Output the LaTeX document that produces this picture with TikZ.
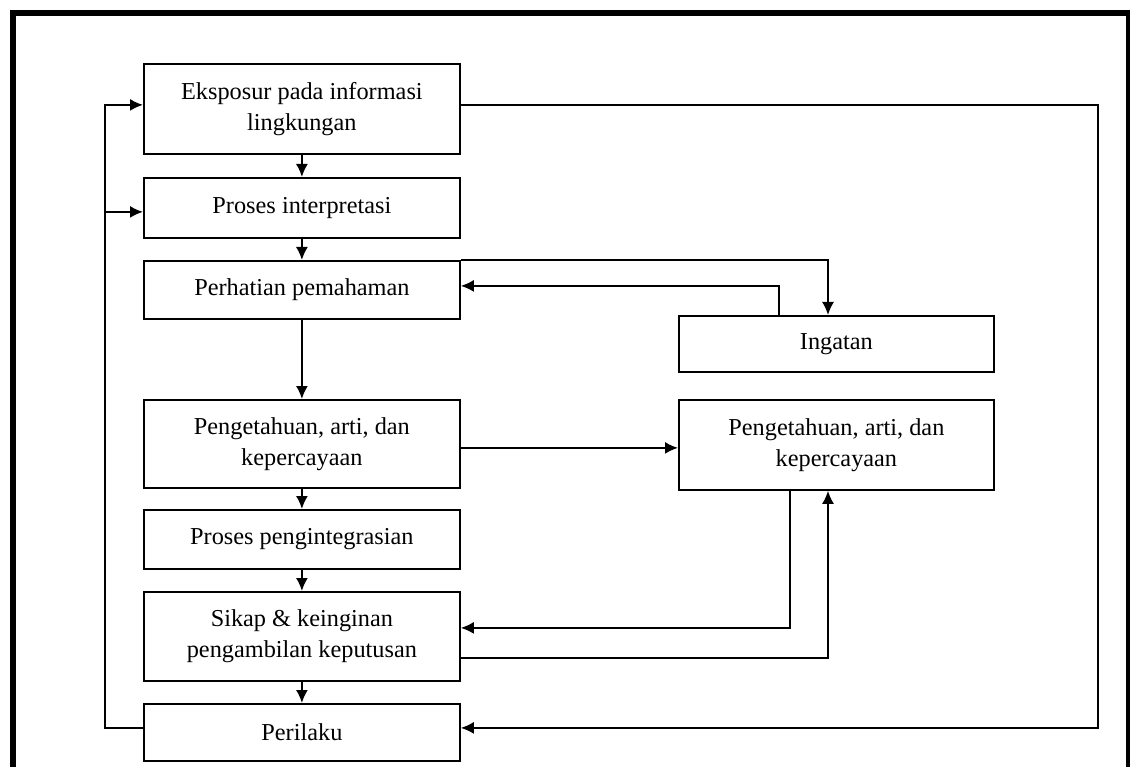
\documentclass[tikz,border=0pt]{standalone}
\usepackage{fontspec}
\setmainfont{Liberation Serif}
\usetikzlibrary{arrows.meta}
\begin{document}
\begin{tikzpicture}[x=1pt,y=-1pt,
 box/.style={draw, line width=1.8pt, minimum width=316pt, anchor=north west, inner sep=0pt, align=center, font=\fontsize{24.3}{31}\selectfont},
 arr/.style={line width=1.8pt, -{Latex[length=13pt,width=12pt]}},
 ln/.style={line width=1.8pt}]
\useasboundingbox (0,0) rectangle (1130,767);
\clip (0,0) rectangle (1130,767);
\draw[line width=6pt] (12.5,800) -- (12.5,13) -- (1128.5,13) -- (1128.5,800);
\node[box, minimum height=90pt] (b1) at (143,63) {Eksposur pada informasi\\lingkungan};
\node[box, minimum height=60pt] (b2) at (143,177) {Proses interpretasi};
\node[box, minimum height=58pt] (b3) at (143,260) {Perhatian pemahaman};
\node[box, minimum height=56pt, minimum width=315pt] (ing) at (678,315) {Ingatan};
\node[box, minimum height=88pt] (b5) at (143,399) {Pengetahuan, arti, dan\\kepercayaan};
\node[box, minimum height=90pt, minimum width=315pt] (b6) at (678,399) {Pengetahuan, arti, dan\\kepercayaan};
\node[box, minimum height=59pt] (b7) at (143,509) {Proses pengintegrasian};
\node[box, minimum height=89pt] (b8) at (143,591) {Sikap \& keinginan\\pengambilan keputusan};
\node[box, minimum height=57pt] (b9) at (143,703) {Perilaku};
\coordinate (L) at (105,0);
\coordinate (R) at (1098,0);
\coordinate (m1) at (828,0);
\coordinate (m2) at (779,0);
\coordinate (m3) at (790,0);
% vertical chain
\draw[arr] (b1.south) -- (b2.north);
\draw[arr] (b2.south) -- (b3.north);
\draw[arr] (b3.south) -- (b5.north);
\draw[arr] (b5.south) -- (b7.north);
\draw[arr] (b7.south) -- (b8.north);
\draw[arr] (b8.south) -- (b9.north);
% left feedback loop
\draw[arr] ([yshift=4.5pt]b9.west) -- ([yshift=4.5pt]b9.west -| L) |- ([yshift=4pt]b1.west);
\draw[arr] ([yshift=-4pt]b2.west -| L) -- ([yshift=-4pt]b2.west);
% right outer loop
\draw[arr] ([yshift=4pt]b1.east) -- ([yshift=4pt]b1.east -| R) |- ([yshift=4.5pt]b9.east);
% memory
\draw[arr] (b3.north east) -| (ing.north -| m1);
\draw[arr] (ing.north -| m2) |- ([yshift=4pt]b3.east);
% knowledge
\draw[arr] ([yshift=-4pt]b5.east) -- ([yshift=-4pt]b5.east -| b6.west);
\draw[arr] (b6.south -| m3) |- ([yshift=8.5pt]b8.east);
\draw[arr] ([yshift=-21.5pt]b8.east) -| (b6.south -| m1);
\end{tikzpicture}
\end{document}
